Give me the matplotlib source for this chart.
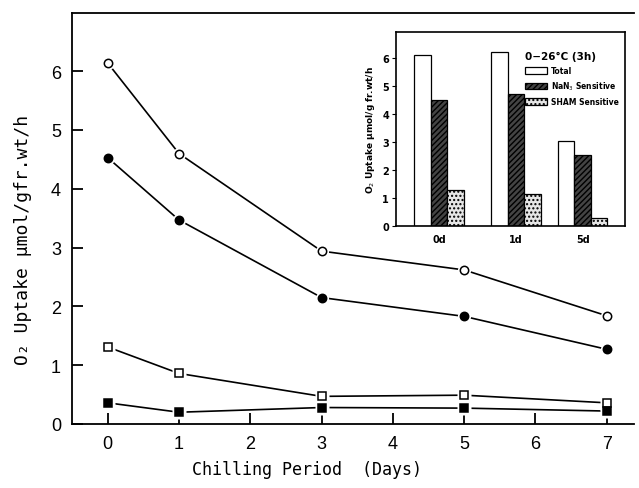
import numpy as np
import matplotlib.pyplot as plt

# Main plot data: O2 uptake vs chilling period
days = [0, 1, 3, 5, 7]
total = [6.14, 4.6, 2.94, 2.62, 1.84]
nan3 = [4.53, 3.47, 2.15, 1.83, 1.27]
sham_open = [1.31, 0.86, 0.47, 0.49, 0.36]
sham_fill = [0.36, 0.2, 0.28, 0.27, 0.22]

# Inset bar data
groups = ['0d', '1d', '5d']
group_pos = [0, 1, 1.87]
bar_total = [6.1, 6.2, 3.05]
bar_nan3 = [4.5, 4.7, 2.55]
bar_sham = [1.3, 1.15, 0.3]

fig = plt.figure(figsize=(6.39, 4.89), dpi=100)
ax = fig.add_axes([0.1127, 0.1309, 0.8793, 0.8405])

def series(y, marker, face):
    ax.plot(days, y, color='black', lw=1.2, zorder=2)
    ax.plot(days, y, ls='none', marker=marker, ms=9.5, mfc='white',
            mec='none', zorder=3)
    ax.plot(days, y, ls='none', marker=marker, ms=6, mfc=face,
            mec='black', mew=1.1, zorder=4)

series(total, 'o', 'white')
series(nan3, 'o', 'black')
series(sham_open, 's', 'white')
series(sham_fill, 's', 'black')

ax.set_xlim(-0.5, 7.38)
ax.set_ylim(0, 6.99)
ax.set_xticks(range(8))
ax.set_yticks(range(7))
ax.tick_params(direction='in', length=8, width=1.3, labelsize=13, pad=8)
for lab in ax.get_xticklabels() + ax.get_yticklabels():
    lab.set_family('Liberation Sans')
ax.spines['right'].set_visible(False)
for s in ['left', 'bottom', 'top']:
    ax.spines[s].set_linewidth(1.3)

fig.text(0.48, 0.038, 'Chilling Period  (Days)', family='DejaVu Sans Mono',
         fontsize=12, ha='center', va='center')
fig.text(0.036, 0.51, 'O\u2082 Uptake \u03bcmol/gfr.wt/h', family='DejaVu Sans Mono',
         fontsize=13, ha='center', va='center', rotation=90)

# Inset
ins = fig.add_axes([0.6197, 0.5358, 0.3583, 0.3967])
w = 0.215
gp = np.array(group_pos)
ins.bar(gp - w, bar_total, w, color='white', edgecolor='black', lw=0.9,
        label='Total')
ins.bar(gp, bar_nan3, w, color='#444444', edgecolor='black', lw=0.9,
        hatch='//////', label='NaN$_3$ Sensitive')
ins.bar(gp + w, bar_sham, w, color='#e6e6e6', edgecolor='black', lw=0.9,
        hatch='....', label='SHAM Sensitive')
ins.set_xlim(-0.56, 2.42)
ins.set_ylim(0, 6.93)
ins.set_yticks(range(7))
ins.set_xticks(gp)
ins.set_xticklabels(groups, fontweight='bold')
ins.tick_params(axis='x', length=0, labelsize=7, pad=6)
ins.tick_params(axis='y', direction='out', length=3, labelsize=7, pad=2)
for lab in ins.get_yticklabels():
    lab.set_fontweight('bold')
ins.set_ylabel('O$_2$ Uptake \u03bcmol/g fr.wt/h', fontsize=6.5,
               fontweight='bold', labelpad=4)
for s in ins.spines.values():
    s.set_linewidth(1.2)
leg = ins.legend(loc='upper left', bbox_to_anchor=(0.565, 0.9),
                 frameon=False, fontsize=5.5,
                 title='0\u221226\u00b0C (3h)', handlelength=2.8,
                 handleheight=1.0, labelspacing=0.6, borderaxespad=0,
                 borderpad=0, alignment='left', handletextpad=0.6)
leg.get_title().set_fontweight('bold')
leg.get_title().set_fontsize(7.5)
for t in leg.get_texts():
    t.set_fontweight('bold')

fig.savefig('out.png', dpi=100)
